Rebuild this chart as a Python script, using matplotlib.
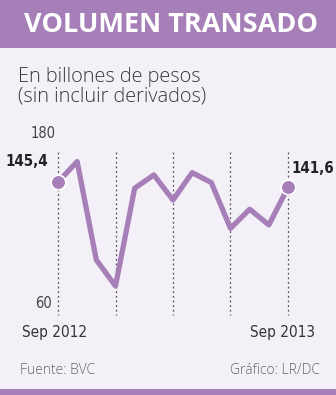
import matplotlib.pyplot as plt
from matplotlib.patches import Rectangle

# monthly traded volume, Sep 2012 .. Sep 2013 (billions of pesos)
months = list(range(13))
volumen = [145.4, 159.8, 90.4, 72.0, 141.0, 150.4, 132.7, 152.0, 145.0, 112.7, 126.2, 115.1, 141.6]
y_ticks = [60, 180]
x_grid = [0, 3, 6, 9, 12]
x_labels = ["Sep 2012", "Sep 2013"]

purple = "#a67fb8"
bg = "#f4f0f8"

W, H = 336, 395
fig = plt.figure(figsize=(W / 100, H / 100), dpi=100, facecolor=bg)

# header band and bottom strip
fig.patches.append(Rectangle((0, 1 - 48 / H), 1, 48 / H, transform=fig.transFigure,
                             facecolor=purple, edgecolor="none"))
fig.patches.append(Rectangle((0, 0), 1, 6 / H, transform=fig.transFigure,
                             facecolor=purple, edgecolor="none"))

fig.text(171 / W, 1 - 25 / H, "VOLUMEN TRANSADO", color="white", fontsize=19.5,
         fontweight="bold", family="Open Sans", ha="center", va="center")
fig.text(18 / W, 1 - 82 / H, "En billones de pesos", color="#3a3a3a",
         fontsize=14.3, family="Open Sans", fontweight="light", ha="left", va="baseline")
fig.text(18 / W, 1 - 101 / H, "(sin incluir derivados)", color="#3a3a3a",
         fontsize=14.3, family="Open Sans", fontweight="light", ha="left", va="baseline")

# condensed look for numbers and dates
cond = dict(family="DejaVu Sans", fontstretch="condensed")

# axes: month 0 at px 58, month 12 at px 288; 180 at px 133, 60 at px 303
x0, x1 = 58, 288
y180, y60 = 133, 303
ax = fig.add_axes([x0 / W, 1 - y60 / H, (x1 - x0) / W, (y60 - y180) / H])
ax.set_xlim(0, 12)
ax.set_ylim(60, 180)
ax.set_facecolor("none")
ax.axis("off")

ppu = (y60 - y180) / 120.0
mpp = 12.0 / (x1 - x0)
for g in x_grid:
    ax.plot([g, g], [180 - (152 - y180) / ppu, 60 - (315 - y60) / ppu],
            color="#555555", lw=0.9, ls=(0, (1.5, 2.2)), clip_on=False, zorder=1)

ax.plot(months, volumen, color=purple, lw=3.8, solid_capstyle="round",
        solid_joinstyle="round", clip_on=False, zorder=2)
ax.plot([months[0], months[-1]], [volumen[0], volumen[-1]], "o", ms=10.5, color=purple,
        mec="white", mew=1.2, clip_on=False, zorder=3)

for v in y_ticks:
    ax.text(-15 * mpp, v, str(v), fontsize=10.5, color="#444444",
            ha="center", va="center", clip_on=False, **cond)

ax.text(-10 * mpp, 180 - (162 - y180) / ppu, "145,4", fontsize=10.8,
        fontweight="bold", color="#222222", ha="right", va="center", **cond)
ax.text(12 + 3 * mpp, 180 - (169 - y180) / ppu, "141,6", fontsize=10.8,
        fontweight="bold", color="#222222", ha="left", va="center", **cond)

fig.text(55 / W, 1 - 333 / H, x_labels[0], fontsize=11, color="#333333",
         ha="center", va="center", **cond)
fig.text(282 / W, 1 - 333 / H, x_labels[1], fontsize=11, color="#333333",
         ha="center", va="center", **cond)

fig.text(20 / W, 1 - 370 / H, "Fuente: BVC", fontsize=10, family="Open Sans",
         fontweight="light", color="#666666", ha="left", va="center")
fig.text(320 / W, 1 - 370 / H, "Gráfico: LR/DC", fontsize=10, family="Open Sans",
         fontweight="light", color="#666666", ha="right", va="center")

fig.savefig("out.png", dpi=100, facecolor=bg)
